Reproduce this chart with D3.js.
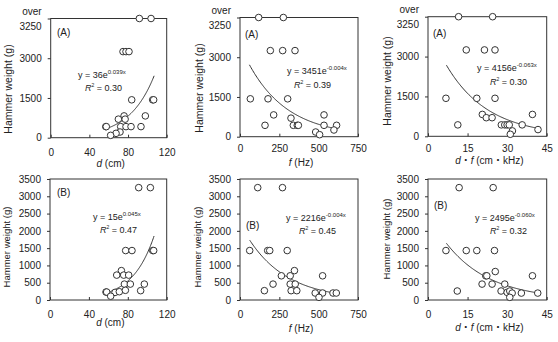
<!DOCTYPE html>
<html>
<head>
<meta charset="utf-8">
<script src="https://cdn.jsdelivr.net/npm/d3@7"></script>
<style>
  body { margin: 0; background: #fff; }
  svg { display: block; }
  text { font-family: "Liberation Sans", Arial, "Noto Sans CJK JP", sans-serif; fill: #222; }
</style>
</head>
<body>
<svg width="558" height="342"></svg>
<script>
// tick values
var yTicksTop = [0, 1500, 3000, 4500];      // 4500 = "over 3250"
var yTicksBottom = [0, 500, 1000, 1500, 2000, 2500, 3000, 3500];
var xTicksD = [0, 40, 80, 120];
var xTicksF = [0, 250, 500, 750];
var xTicksDF = [0, 15, 30, 45];

// (A) row
var aDx = [91.7, 103.8, 74.8, 77.9, 81.0, 83.8, 105.5, 106.5, 97.9, 75.9, 70, 77, 57, 57.5, 72.4, 77.9, 83.1, 93.4, 71.7, 67.6, 62];
var aDy = [4500, 4500, 3250, 3250, 3250, 1430, 1430, 1430, 823, 823, 700, 700, 418, 418, 418, 418, 418, 418, 215, 165, 89];
var aFx = [118.7, 275.5, 192.8, 271.2, 349.6, 65.7, 178, 303, 214, 534, 159, 339, 364, 371, 534, 614, 324, 481, 506, 597];
var aFy = [4500, 4500, 3250, 3250, 3250, 1430, 1430, 1430, 823, 823, 430, 430, 430, 430, 430, 430, 700, 177, 76, 253];
var aDFx = [11.6, 24.5, 14.5, 21.4, 25.4, 6.8, 18.5, 25.4, 11.3, 20.6, 22.1, 24.3, 39.6, 27.8, 29.1, 30.0, 30.8, 35.7, 32.0, 31.2, 41.7];
var aDFy = [4500, 4500, 3250, 3250, 3250, 1430, 1430, 1430, 430, 823, 700, 700, 823, 430, 430, 430, 430, 430, 203, 76, 253];

// (B) row
var bDx = [91.2, 103.2, 77.8, 84.3, 105.6, 106.6, 73.4, 68.6, 75.8, 80.9, 76.5, 82.6, 97, 57.6, 58.3, 66.9, 71.3, 77.5, 93.2, 62.4];
var bDy = [3250, 3250, 1430, 1430, 1430, 1430, 850, 720, 720, 720, 460, 460, 460, 230, 230, 220, 240, 280, 270, 110];
var bFx = [112.6, 270, 61.6, 176, 189, 300, 263, 319, 346, 525, 210, 319, 351, 155, 325, 361, 478, 525, 591, 612, 502];
var bFy = [3250, 3250, 1430, 1430, 1430, 1430, 700, 700, 850, 700, 460, 460, 460, 270, 270, 270, 202, 202, 202, 202, 77];
var bDFx = [11.8, 24.7, 6.8, 14.5, 18.5, 25.2, 25.5, 21.9, 22.3, 39.6, 20.5, 24.3, 29.1, 11.1, 27.7, 30.0, 31.0, 31.9, 35.4, 41.6, 31.0];
var bDFy = [3250, 3250, 1430, 1430, 1430, 1430, 823, 700, 700, 700, 460, 460, 460, 260, 260, 220, 260, 200, 200, 200, 77];

// fitted curves y = a * e^(b x), shown over [x0, x1]
var fitA = [36, 3451, 4156, 15, 2216, 2495];
var fitB = [0.039, -0.004, -0.063, 0.045, -0.004, -0.060];
var fitFrom = [57, 60, 7, 57, 62, 7];
var fitTo = [107, 590, 41, 107, 605, 41];
var fitA_txt = ["36", "3451", "4156", "15", "2216", "2495"];
var fitB_txt = ["0.039x", "-0.004x", "-0.063x", "0.045x", "-0.004x", "-0.060x"];
var r2_txt = ["0.30", "0.39", "0.30", "0.47", "0.45", "0.32"];

var svg = d3.select("svg");

// 各パネルの位置
var panels = [
  {box: [50.7, 166.7, 18.5, 137.7], xs: aDx, ys: aDy, xt: xTicksD, yt: yTicksTop, xmax: 120, ymax: 4500, tag: "(A)", tagPos: [57, 36], eqPos: [78, 78], r2Pos: [85, 91], xlab: "d", ylabY: 89, ylabX: 8, xlabY: 167, tickY: 153},
  {box: [240, 358, 17.5, 136.7], xs: aFx, ys: aFy, xt: xTicksF, yt: yTicksTop, xmax: 750, ymax: 4500, tag: "(A)", tagPos: [245, 38], eqPos: [287, 74], r2Pos: [294, 88], xlab: "f", ylabY: 88, ylabX: 199, xlabY: 166, tickY: 149},
  {box: [428, 546.7, 16.7, 136.3], xs: aDFx, ys: aDFy, xt: xTicksDF, yt: yTicksTop, xmax: 45, ymax: 4500, tag: "(A)", tagPos: [433, 37], eqPos: [477, 71], r2Pos: [490, 85], xlab: "df", ylabY: 81, ylabX: 387, xlabY: 164, tickY: 149},
  {box: [50, 166.7, 179, 300], xs: bDx, ys: bDy, xt: xTicksD, yt: yTicksBottom, xmax: 120, ymax: 3500, tag: "(B)", tagPos: [57, 196], eqPos: [93, 220], r2Pos: [100, 233], xlab: "d", ylabY: 247, ylabX: 7, xlabY: 326, tickY: 314},
  {box: [240, 358, 179, 300], xs: bFx, ys: bFy, xt: xTicksF, yt: yTicksBottom, xmax: 750, ymax: 3500, tag: "(B)", tagPos: [246, 229], eqPos: [286, 221], r2Pos: [299, 234], xlab: "f", ylabY: 247, ylabX: 198, xlabY: 332, tickY: 314},
  {box: [428, 546.7, 179, 300], xs: bDFx, ys: bDFy, xt: xTicksDF, yt: yTicksBottom, xmax: 45, ymax: 3500, tag: "(B)", tagPos: [434, 209], eqPos: [475, 221], r2Pos: [490, 234], xlab: "df", ylabY: 239, ylabX: 387, xlabY: 331, tickY: 314}
];

panels.forEach(function(p, i) {
  var L = p.box[0], R = p.box[1], T = p.box[2], B = p.box[3];
  var x = d3.scaleLinear().domain([0, p.xmax]).range([L, R]);
  var y = d3.scaleLinear().domain([0, p.ymax]).range([B, T]);
  var g = svg.append("g");
  var top = p.ymax === 4500;

  // frame
  g.append("rect").attr("x", L).attr("y", T).attr("width", R - L).attr("height", B - T)
    .attr("fill", "none").attr("stroke", "#333").attr("stroke-width", 1);

  // y axis
  g.append("g").attr("transform", "translate(" + L + ",0)")
    .call(d3.axisLeft(y).tickValues(p.yt).tickSize(3).tickPadding(6).tickFormat(function(d) {
      return (top && d === 4500) ? "" : d;
    }))
    .call(function(a) {
      a.select(".domain").remove();
      a.selectAll("line").attr("stroke", "#333");
      a.selectAll("text").attr("font-size", 10).attr("fill", "#222");
    });
  if (top) {
    g.append("text").attr("x", L - 9).attr("y", y(4500) - 4).attr("text-anchor", "end")
      .attr("font-size", 10).text("over");
    g.append("text").attr("x", L - 9).attr("y", y(4500) + 11).attr("text-anchor", "end")
      .attr("font-size", 10).text("3250");
  }

  // x axis (ticks inside)
  g.append("g").attr("transform", "translate(0," + B + ")")
    .call(d3.axisBottom(x).tickValues(p.xt).tickSize(-3).tickPadding(0).tickFormat(d3.format("d")))
    .call(function(a) {
      a.select(".domain").remove();
      a.selectAll("line").attr("stroke", "#333");
      a.selectAll("text").attr("font-size", 10).attr("fill", "#222")
        .attr("y", p.tickY - B).attr("dy", "0.35em");
    });

  // trend curve
  var xs = d3.range(101).map(function(k) { return fitFrom[i] + (fitTo[i] - fitFrom[i]) * k / 100; });
  g.append("path")
    .datum(xs)
    .attr("fill", "none").attr("stroke", "#333").attr("stroke-width", 1)
    .attr("d", d3.line().x(function(v) { return x(v); }).y(function(v) { return y(fitA[i] * Math.exp(fitB[i] * v)); }));

  // points
  g.selectAll("circle.pt").data(p.xs.map(function(v, k) { return [v, p.ys[k]]; }))
    .enter().append("circle").attr("class", "pt")
    .attr("cx", function(d) { return x(d[0]); })
    .attr("cy", function(d) { return y(d[1]); })
    .attr("r", 3.3)
    .attr("fill", "#fff").attr("stroke", "#333").attr("stroke-width", 1);

  // panel tag
  g.append("text").attr("x", p.tagPos[0]).attr("y", p.tagPos[1]).attr("font-size", 10).text(p.tag);

  // equation
  var eq = g.append("text").attr("x", p.eqPos[0]).attr("y", p.eqPos[1]).attr("font-size", 9);
  eq.append("tspan").text("y = " + fitA_txt[i] + "e");
  eq.append("tspan").attr("font-size", 6).attr("dy", -4).text(fitB_txt[i]);
  var r2 = g.append("text").attr("x", p.r2Pos[0]).attr("y", p.r2Pos[1]).attr("font-size", 9);
  r2.append("tspan").attr("font-style", "italic").text("R");
  r2.append("tspan").attr("font-size", 5).attr("dy", -4).text("2");
  r2.append("tspan").attr("dy", 4).text(" = " + r2_txt[i]);

  // x title
  var xt = g.append("text").attr("x", (L + R) / 2 + 2).attr("y", p.xlabY).attr("text-anchor", "middle").attr("font-size", 10);
  if (p.xlab === "d") {
    xt.append("tspan").attr("font-style", "italic").text("d");
    xt.append("tspan").text(" (cm)");
  } else if (p.xlab === "f") {
    xt.append("tspan").attr("font-style", "italic").text("f");
    xt.append("tspan").text(" (Hz)");
  } else {
    xt.append("tspan").attr("font-style", "italic").text("d");
    xt.append("tspan").text("・");
    xt.append("tspan").attr("font-style", "italic").text("f");
    xt.append("tspan").text(" (cm・kHz)");
  }

  // y title
  g.append("text")
    .attr("transform", "translate(" + p.ylabX + "," + p.ylabY + ") rotate(-90)")
    .attr("text-anchor", "middle").attr("dy", "0.35em")
    .attr("font-size", top ? 10.5 : 9.5)
    .text("Hammer weight (g)");
});
</script>
</body>
</html>
